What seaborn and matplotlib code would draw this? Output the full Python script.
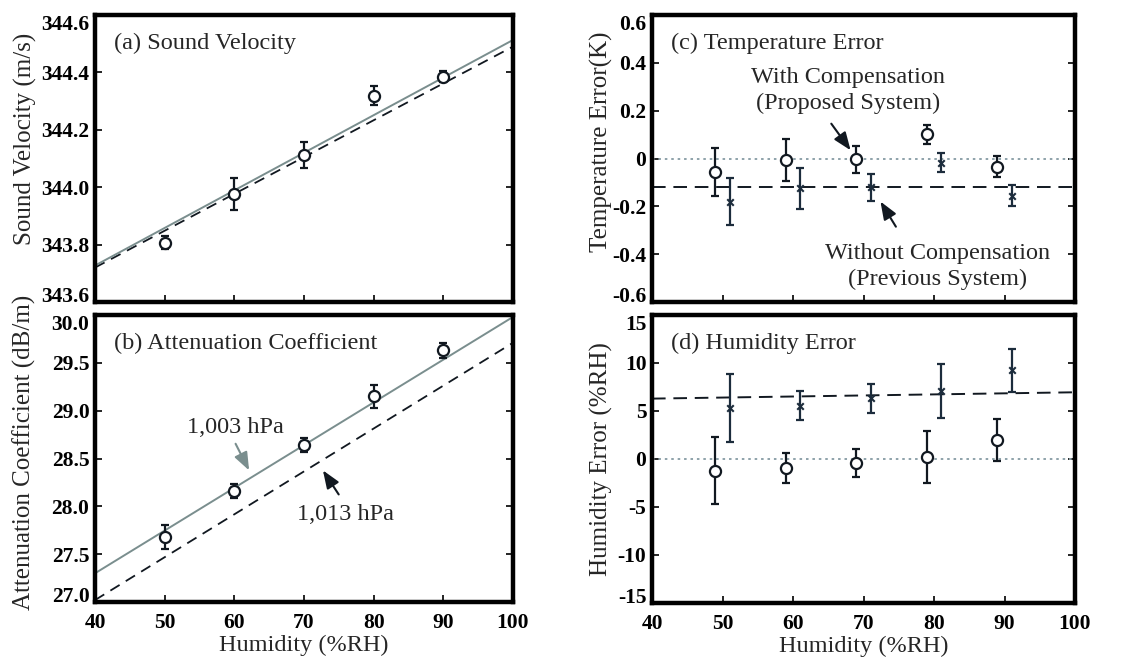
import numpy as np
import pandas as pd
import matplotlib
matplotlib.use("Agg")
import matplotlib.pyplot as plt
import seaborn as sns

# ---------------- data ----------------
humidity = [50, 60, 70, 80, 90]
fit_x = [40, 100]

# (a) sound velocity
sv_mean = [343.807, 343.975, 344.112, 344.319, 344.385]
sv_err = [0.024, 0.056, 0.045, 0.034, 0.020]
sv_fit_1003 = [343.727, 344.513]
sv_fit_1013 = [343.720, 344.490]

# (b) attenuation coefficient
at_mean = [27.68, 28.16, 28.64, 29.15, 29.63]
at_err = [0.13, 0.07, 0.07, 0.12, 0.08]
at_fit_1003 = [27.30, 29.98]
at_fit_1013 = [27.02, 29.71]

# (c) temperature error
te_x_with = [49, 59, 69, 79, 89]
te_with = [-0.058, -0.006, -0.004, 0.101, -0.034]
te_with_err = [0.100, 0.088, 0.057, 0.040, 0.045]
te_x_without = [51, 61, 71, 81, 91]
te_without = [-0.180, -0.125, -0.120, -0.017, -0.155]
te_without_err = [0.100, 0.087, 0.057, 0.040, 0.044]
te_ref = [0.0, 0.0]
te_fit_without = [-0.118, -0.118]

# (d) humidity error
he_x_with = [49, 59, 69, 79, 89]
he_with = [-1.2, -0.92, -0.44, 0.23, 1.97]
he_with_err = [3.45, 1.55, 1.45, 2.7, 2.15]
he_x_without = [51, 61, 71, 81, 91]
he_without = [5.31, 5.56, 6.32, 7.09, 9.22]
he_without_err = [3.5, 1.5, 1.5, 2.8, 2.2]
he_ref = [0.0, 0.0]
he_fit_without = [6.29, 6.95]

x_ticks = [40, 50, 60, 70, 80, 90, 100]
sv_ticks = [343.6, 343.8, 344.0, 344.2, 344.4, 344.6]
sv_labels = ["343.6", "343.8", "344.0", "344.2", "344.4", "344.6"]
at_ticks = [27.0, 27.5, 28.0, 28.5, 29.0, 29.5, 30.0]
at_labels = ["27.0", "27.5", "28.0", "28.5", "29.0", "29.5", "30.0"]
te_ticks = [-0.6, -0.4, -0.2, 0.0, 0.2, 0.4, 0.6]
te_labels = ["-0.6", "-0.4", "-0.2", "0", "0.2", "0.4", "0.6"]
he_ticks = [-15, -10, -5, 0, 5, 10, 15]
he_labels = ["-15", "-10", "-5", "0", "5", "10", "15"]

# ---------------- style ----------------
sns.set_theme(style="ticks")
plt.rcParams["font.family"] = ["Liberation Serif", "DejaVu Serif"]

GRAY = "#7a8e8e"
DOT = "#8ea2aa"
DARK = "#111820"
NAVY = "#1c2c3c"

fig = plt.figure(figsize=(11.4, 6.59), dpi=100)
W, H = 1140, 659
def axpos(l, t, r, b):
    return [l / W, 1 - b / H, (r - l) / W, (b - t) / H]

ax_a = fig.add_axes(axpos(95, 15, 513, 302))
ax_b = fig.add_axes(axpos(95, 315, 513, 602))
ax_c = fig.add_axes(axpos(652, 15, 1075, 302))
ax_d = fig.add_axes(axpos(652, 315, 1075, 603))

def style_axis(ax, yticks, ylabels, ylabel, show_x, lab_xy, right_ticks=True):
    ax.set_xlim(40, 100)
    ax.set_ylim(yticks[0], yticks[-1])
    ax.set_xticks(x_ticks)
    ax.set_yticks(yticks)
    ax.set_yticklabels(ylabels, fontsize=15.5, fontweight="bold")
    tl = ax.get_yticklabels()
    tl[0].set_va("baseline")
    tl[-1].set_va("top")
    if show_x:
        ax.set_xticklabels([str(v) for v in x_ticks], fontsize=15.5, fontweight="bold")
        ax.set_xlabel("Humidity (%RH)", fontsize=17.5, labelpad=1.5)
    else:
        ax.set_xticklabels([])
        ax.set_xlabel("")
    ax.set_ylabel(ylabel, fontsize=18)
    ax.yaxis.set_label_coords(*lab_xy)
    ax.tick_params(direction="in", length=5, width=1.2, right=right_ticks, top=False,
                   colors="black")
    ax.tick_params(axis="x", pad=8)
    ax.tick_params(axis="y", pad=4)
    for s in ax.spines.values():
        s.set_linewidth(3.2)
        s.set_color("black")
        s.set_visible(True)

def plot_line(ax, xs, ys, color, ls, lw):
    sns.lineplot(x=xs, y=ys, ax=ax, color=color, linestyle=ls, linewidth=lw,
                 legend=False)

def plot_circles(ax, xs, ys, errs):
    ax.errorbar(xs, ys, yerr=errs, fmt="none", ecolor=DARK, elinewidth=1.6,
                capsize=3, capthick=1.6, zorder=3)
    sns.scatterplot(x=xs, y=ys, ax=ax, marker="o", s=64, facecolor="white",
                    edgecolor=DARK, linewidth=1.6, zorder=4, legend=False)

def plot_crosses(ax, xs, ys, errs):
    ax.errorbar(xs, ys, yerr=errs, fmt="none", ecolor=NAVY, elinewidth=1.6,
                capsize=3, capthick=1.6, zorder=3)
    sns.scatterplot(x=xs, y=ys, ax=ax, marker="x", s=22, color=NAVY,
                    linewidth=1.5, zorder=4, legend=False)

ARROW = "-|>,head_length=0.9,head_width=0.35"

# (a)
plot_line(ax_a, fit_x, sv_fit_1013, DARK, (0, (6, 4)), 1.3)
plot_line(ax_a, fit_x, sv_fit_1003, GRAY, "-", 1.4)
plot_circles(ax_a, humidity, sv_mean, sv_err)
style_axis(ax_a, sv_ticks, sv_labels, "Sound Velocity (m/s)", False, (-0.138, 0.57))
ax_a.text(0.045, 0.90, "(a) Sound Velocity", transform=ax_a.transAxes,
          fontsize=17.5, va="center", ha="left")

# (b)
plot_line(ax_b, fit_x, at_fit_1013, DARK, (0, (6, 4)), 1.3)
plot_line(ax_b, fit_x, at_fit_1003, GRAY, "-", 1.4)
plot_circles(ax_b, humidity, at_mean, at_err)
style_axis(ax_b, at_ticks, at_labels, "Attenuation Coefficient (dB/m)", True, (-0.142, 0.52))
ax_b.text(0.045, 0.90, "(b) Attenuation Coefficient", transform=ax_b.transAxes,
          fontsize=17.5, va="center", ha="left")
ax_b.text(60.2, 28.82, "1,003 hPa", fontsize=17.5, ha="center", va="center")
ax_b.annotate("", xy=(62.3, 28.35), xytext=(60.0, 28.68),
              arrowprops=dict(arrowstyle=ARROW, color=GRAY, lw=1.5))
ax_b.text(76.0, 27.91, "1,013 hPa", fontsize=17.5, ha="center", va="center")
ax_b.annotate("", xy=(72.5, 28.40), xytext=(75.2, 28.10),
              arrowprops=dict(arrowstyle=ARROW, color=DARK, lw=1.5))

# (c)
plot_line(ax_c, fit_x, te_ref, DOT, (0, (1.3, 2)), 1.4)
plot_line(ax_c, fit_x, te_fit_without, DARK, (0, (7, 4)), 1.4)
plot_circles(ax_c, te_x_with, te_with, te_with_err)
plot_crosses(ax_c, te_x_without, te_without, te_without_err)
style_axis(ax_c, te_ticks, te_labels, "Temperature Error(K)", False, (-0.092, 0.56))
ax_c.text(0.045, 0.90, "(c) Temperature Error", transform=ax_c.transAxes,
          fontsize=17.5, va="center", ha="left")
ax_c.text(67.8, 0.285, "With Compensation\n(Proposed System)", fontsize=17.5,
          ha="center", va="center", linespacing=1.3)
ax_c.annotate("", xy=(68.4, 0.025), xytext=(65.2, 0.155),
              arrowprops=dict(arrowstyle=ARROW, color=DARK, lw=1.5))
ax_c.text(80.5, -0.45, "Without Compensation\n(Previous System)", fontsize=17.5,
          ha="center", va="center", linespacing=1.3)
ax_c.annotate("", xy=(72.2, -0.170), xytext=(74.8, -0.295),
              arrowprops=dict(arrowstyle=ARROW, color=DARK, lw=1.5))

# (d)
plot_line(ax_d, fit_x, he_ref, DOT, (0, (1.3, 2)), 1.4)
plot_line(ax_d, fit_x, he_fit_without, DARK, (0, (7, 4)), 1.4)
plot_circles(ax_d, he_x_with, he_with, he_with_err)
plot_crosses(ax_d, he_x_without, he_without, he_without_err)
style_axis(ax_d, he_ticks, he_labels, "Humidity Error (%RH)", True, (-0.092, 0.50))
ax_d.text(0.045, 0.90, "(d) Humidity Error", transform=ax_d.transAxes,
          fontsize=17.5, va="center", ha="left")

fig.savefig("out.png", dpi=100)
